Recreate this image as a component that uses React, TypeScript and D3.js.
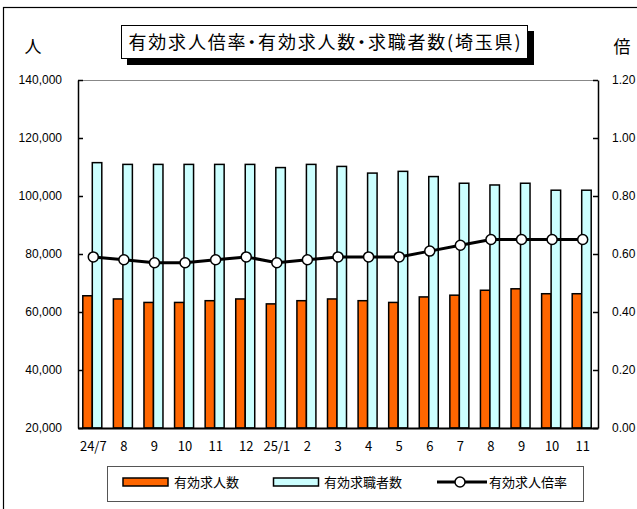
import React, { useEffect, useRef } from "react";
import * as d3 from "d3";

const months = ["24/7", "8", "9", "10", "11", "12", "25/1", "2", "3", "4", "5", "6", "7", "8", "9", "10", "11"];
const openings = [65600, 64500, 63300, 63300, 63900, 64500, 62800, 63900, 64500, 63900, 63300, 65200, 65800, 67500, 68000, 66300, 66300];
const seekers = [111500, 110900, 110900, 110900, 110900, 110900, 109800, 110900, 110200, 107900, 108500, 106700, 104400, 103800, 104400, 102000, 102000];
const ratio = [0.59, 0.58, 0.57, 0.57, 0.58, 0.59, 0.57, 0.58, 0.59, 0.59, 0.59, 0.61, 0.63, 0.65, 0.65, 0.65, 0.65];
const leftTicks = [20000, 40000, 60000, 80000, 100000, 120000, 140000];
const rightTicks = [0, 0.2, 0.4, 0.6, 0.8, 1.0, 1.2];

const title = "有効求人倍率・有効求人数・求職者数(埼玉県)";
const legendNames = ["有効求人数", "有効求職者数", "有効求人倍率"];

const W = 637, H = 509;
const margin = { top: 80, right: 39, bottom: 81, left: 78 };
const ORANGE = "#FF6600";
const CYAN = "#CCFFFF";
const jp = "'Noto Sans CJK JP', sans-serif";
const num = "'Liberation Sans', Arial, sans-serif";

export default function App() {
  const ref = useRef<SVGSVGElement>(null);

  useEffect(() => {
    const svg = d3.select(ref.current);
    svg.selectAll("*").remove();

    const x0 = margin.left, x1 = W - margin.right;
    const y0 = H - margin.bottom, y1 = margin.top;

    // outer frame
    svg.append("rect")
      .attr("x", 3.5).attr("y", 7.5)
      .attr("width", 700).attr("height", 600)
      .attr("fill", "#fff").attr("stroke", "#000").attr("stroke-width", 1.2);

    const x = d3.scaleBand<string>()
      .domain(months.map((m, i) => i + ""))
      .range([x0, x1])
      .padding(0);
    const sub = d3.scaleBand<string>()
      .domain(["o", "s"])
      .range([(x.bandwidth() - 19) / 2 - 1, (x.bandwidth() + 19) / 2 - 1]);
    const yL = d3.scaleLinear().domain([20000, 140000]).range([y0, y1]);
    const yR = d3.scaleLinear().domain([0, 1.2]).range([y0, y1]);

    // plot frame (top)
    svg.append("line")
      .attr("x1", x0).attr("x2", x1).attr("y1", y1 + 0.5).attr("y2", y1 + 0.5)
      .attr("stroke", "#888").attr("stroke-width", 1);

    const g = svg.append("g");
    months.forEach((m, i) => {
      const k = i + "";
      g.append("rect")
        .attr("x", x(k)! + sub("o")!)
        .attr("y", yL(openings[i]))
        .attr("width", sub.bandwidth())
        .attr("height", y0 - yL(openings[i]))
        .attr("fill", ORANGE).attr("stroke", "#000").attr("stroke-width", 1.5);
      g.append("rect")
        .attr("x", x(k)! + sub("s")!)
        .attr("y", yL(seekers[i]))
        .attr("width", sub.bandwidth())
        .attr("height", y0 - yL(seekers[i]))
        .attr("fill", CYAN).attr("stroke", "#000").attr("stroke-width", 1.5);
    });

    const cx = (i: number) => x(i + "")! + x.bandwidth() / 2;
    const line = d3.line<number>()
      .x((_, i) => cx(i))
      .y((d) => yR(d));
    svg.append("path")
      .datum(ratio)
      .attr("d", line)
      .attr("fill", "none").attr("stroke", "#000").attr("stroke-width", 3);
    svg.selectAll("circle.pt")
      .data(ratio)
      .enter().append("circle")
      .attr("class", "pt")
      .attr("cx", (_, i) => cx(i))
      .attr("cy", (d) => yR(d))
      .attr("r", 5)
      .attr("fill", "#fff").attr("stroke", "#000").attr("stroke-width", 1.5);

    // axes
    const left = svg.append("g")
      .attr("transform", `translate(${x0},0)`)
      .call(d3.axisLeft(yL).tickValues(leftTicks).tickSizeInner(-5).tickSizeOuter(0)
        .tickPadding(16).tickFormat(d3.format(",")));
    const right = svg.append("g")
      .attr("transform", `translate(${x1},0)`)
      .call(d3.axisRight(yR).tickValues(rightTicks).tickSizeInner(-5).tickSizeOuter(0)
        .tickPadding(14).tickFormat(d3.format(".2f")));
    const bottom = svg.append("g")
      .attr("transform", `translate(0,${y0})`)
      .call(d3.axisBottom(x).tickSize(0).tickPadding(14)
        .tickFormat((d) => months[+d]));
    [left, right].forEach((a) => {
      a.selectAll("text").attr("font-family", num).attr("font-size", 12).attr("fill", "#000");
      a.selectAll("line, path").attr("stroke", "#000").attr("stroke-width", 1.5);
    });
    bottom.selectAll("text").attr("font-family", jp).attr("font-size", 13).attr("fill", "#000");
    bottom.select("path").attr("stroke", "#000").attr("stroke-width", 2);

    // axis unit labels
    svg.append("text").attr("x", 33).attr("y", 53).attr("text-anchor", "middle")
      .attr("font-family", jp).attr("font-size", 17).text("人");
    svg.append("text").attr("x", 622).attr("y", 53).attr("text-anchor", "middle")
      .attr("font-family", jp).attr("font-size", 17).text("倍");

    // title box with shadow
    svg.append("rect").attr("x", 127).attr("y", 31).attr("width", 407).attr("height", 34).attr("fill", "#000");
    svg.append("rect").attr("x", 121.5).attr("y", 25.5).attr("width", 406).attr("height", 33)
      .attr("fill", "#fff").attr("stroke", "#000").attr("stroke-width", 1);
    svg.append("text").attr("x", 324.5).attr("y", 48.5).attr("text-anchor", "middle")
      .attr("font-family", jp).attr("font-size", 18)
      .style("font-feature-settings", "'palt'")
      .attr("textLength", 392).text(title);

    // legend
    const lg = svg.append("g");
    lg.append("rect").attr("x", 107.5).attr("y", 466.5).attr("width", 476).attr("height", 35)
      .attr("fill", "#fff").attr("stroke", "#555").attr("stroke-width", 1);
    lg.append("rect").attr("x", 123).attr("y", 478).attr("width", 45).attr("height", 8)
      .attr("fill", ORANGE).attr("stroke", "#000").attr("stroke-width", 1.5);
    lg.append("rect").attr("x", 273.5).attr("y", 478).attr("width", 45).attr("height", 8)
      .attr("fill", CYAN).attr("stroke", "#000").attr("stroke-width", 1.5);
    lg.append("line").attr("x1", 437).attr("x2", 487).attr("y1", 482).attr("y2", 482)
      .attr("stroke", "#000").attr("stroke-width", 3);
    lg.append("circle").attr("cx", 460).attr("cy", 482).attr("r", 5)
      .attr("fill", "#fff").attr("stroke", "#000").attr("stroke-width", 1.5);
    const lx = [174, 324, 489];
    legendNames.forEach((n, i) => {
      lg.append("text").attr("x", lx[i]).attr("y", 487)
        .attr("font-family", jp).attr("font-size", 13).text(n);
    });
  }, []);

  return (
    <svg ref={ref} width={W} height={H}
      style={{ position: "absolute", left: 0, top: 0, background: "#fff" }} />
  );
}
